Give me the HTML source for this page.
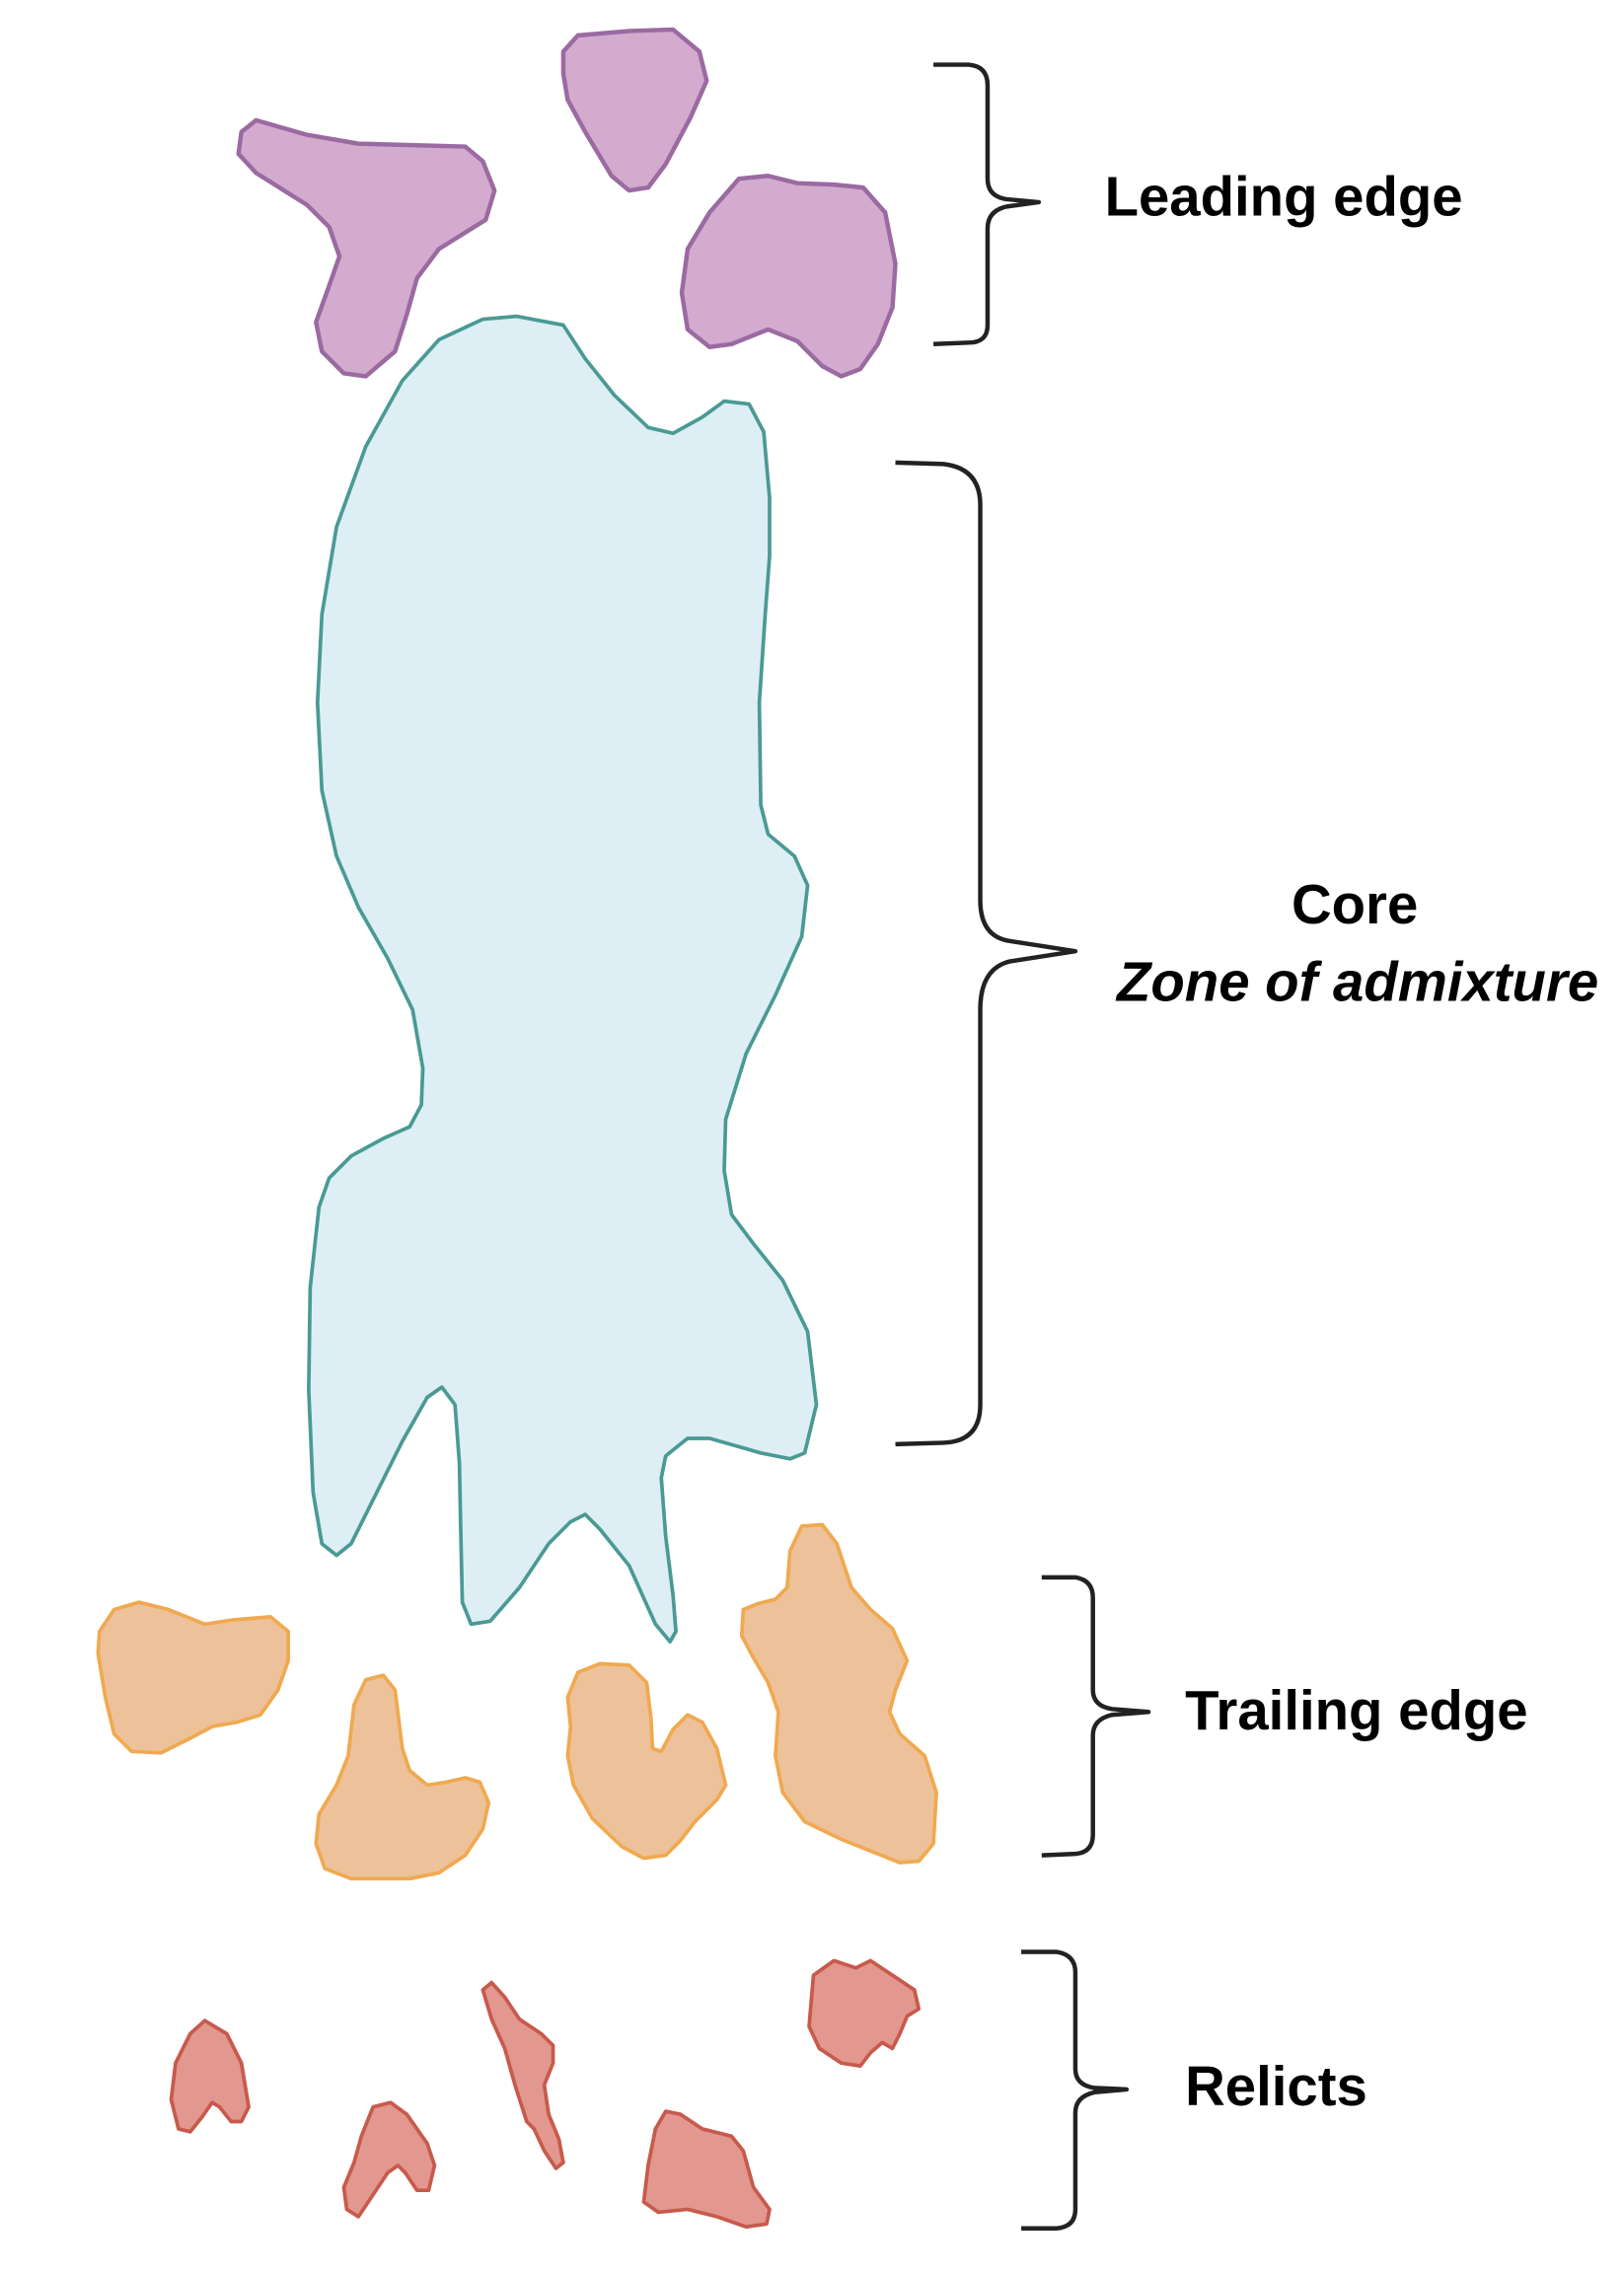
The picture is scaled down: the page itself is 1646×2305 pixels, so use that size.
<!DOCTYPE html>
<html><head><meta charset="utf-8"><style>
html,body{margin:0;padding:0;background:#fff;}
svg{display:block;}
text{font-family:"Liberation Sans",Arial,sans-serif;font-weight:bold;fill:#000;}
</style></head><body>
<svg width="1646" height="2305" viewBox="0 0 1110 1554" xmlns="http://www.w3.org/2000/svg">
<g fill="#d2abcf" stroke="#9b6aa1" stroke-width="3" stroke-linejoin="round">
<polygon points="175,82 210,92 245,98 318,100 330,110 338,130 332,150 300,170 285,190 278,215 270,240 250,257 235,255 220,240 216,220 225,195 232,175 225,155 210,140 175,118 163,105 165,90"/>
<polygon points="385,35 395,24 430,21 460,20 478,35 483,55 472,80 455,112 443,128 430,130 418,120 400,90 388,68 385,50"/>
<polygon points="470,170 485,145 505,122 525,120 545,125 570,126 590,128 605,145 612,180 610,210 600,235 588,252 575,257 562,250 545,233 525,225 500,235 485,237 470,225 466,200"/>
</g>
<polygon fill="#ddeef5" stroke="#4a9a94" stroke-width="2.5" stroke-linejoin="round" points="353,216 385,222 400,245 420,270 443,292 460,296 480,285 495,274 512,276 522,295 526,340 526,380 523,420 519,480 520,550 525,570 543,585 552,605 548,640 530,680 510,720 496,765 495,800 500,830 515,850 535,875 552,910 558,960 550,993 540,997 520,993 485,983 470,983 455,995 452,1010 455,1050 460,1090 462,1115 458,1122 448,1110 430,1070 410,1045 400,1035 390,1040 375,1055 355,1085 335,1108 322,1110 316,1095 315,1050 314,1000 311,960 302,948 292,955 275,985 255,1025 240,1055 230,1063 220,1055 214,1020 211,950 212,880 218,825 225,805 240,790 262,778 280,770 288,755 289,730 282,690 265,655 245,620 230,585 220,540 217,480 220,420 230,360 250,305 275,260 300,232 330,218"/>
<g fill="#edc29a" stroke="#f0a950" stroke-width="2.5" stroke-linejoin="round">
<polygon points="68,1115 78,1100 95,1095 115,1100 140,1110 160,1107 185,1105 197,1115 197,1135 190,1155 178,1172 162,1177 145,1180 130,1188 110,1198 90,1197 78,1185 72,1160 67,1130"/>
<polygon points="242,1165 250,1148 262,1145 270,1155 275,1195 280,1210 292,1220 305,1218 318,1215 328,1218 334,1232 330,1250 318,1268 300,1280 280,1284 240,1284 222,1277 216,1260 218,1240 230,1220 238,1200"/>
<polygon points="388,1160 395,1143 410,1137 430,1138 442,1150 445,1175 446,1195 452,1197 460,1182 470,1172 480,1177 490,1195 496,1220 490,1230 475,1245 465,1258 455,1268 440,1270 425,1262 405,1243 392,1220 388,1200 390,1180"/>
<polygon points="540,1060 548,1043 562,1042 572,1055 582,1085 595,1100 610,1113 620,1135 612,1155 608,1170 615,1185 632,1200 640,1225 638,1260 628,1272 615,1273 600,1267 575,1257 550,1245 535,1225 530,1200 532,1170 525,1150 515,1133 507,1118 508,1100 518,1096 530,1093 538,1085"/>
</g>
<g fill="#e2978f" stroke="#c75a4c" stroke-width="2.5" stroke-linejoin="round">
<polygon points="140,1381 155,1390 165,1410 170,1440 165,1450 158,1450 150,1440 145,1437 138,1447 130,1457 122,1455 117,1435 120,1410 130,1390"/>
<polygon points="255,1440 267,1437 278,1445 292,1465 297,1480 293,1497 285,1497 277,1485 272,1480 265,1485 255,1500 245,1515 237,1510 235,1495 242,1478 247,1460"/>
<polygon points="330,1360 336,1355 345,1365 355,1380 370,1390 378,1398 378,1410 372,1425 375,1445 382,1462 385,1478 380,1482 372,1470 365,1455 360,1450 352,1425 345,1400 336,1380"/>
<polygon points="448,1455 455,1443 465,1445 480,1455 500,1460 508,1470 515,1495 526,1510 524,1520 510,1522 490,1515 470,1510 450,1512 440,1505 443,1480"/>
<polygon points="556,1350 570,1340 585,1345 595,1340 610,1350 625,1360 628,1373 620,1378 615,1390 610,1400 603,1396 595,1403 588,1412 575,1410 560,1400 553,1385"/>
</g>
<g fill="none" stroke="#222" stroke-width="3" stroke-linejoin="round">
<path d="M638,44 L662,44 Q675,45 675,58 L675,122 Q675,134 688,136 L710,138 L688,141 Q675,144 675,156 L675,222 Q675,234 662,234 L638,235"/>
<path d="M612,316 L645,317 Q670,320 670,345 L670,615 Q670,640 690,643 L735,650 L690,657 Q670,662 670,690 L670,960 Q670,985 645,986 L612,987"/>
<path d="M712,1078 L735,1078 Q747,1080 747,1092 L747,1155 Q747,1166 760,1168 L785,1170 L760,1172 Q747,1175 747,1186 L747,1254 Q747,1266 735,1267 L712,1268"/>
<path d="M698,1334 L722,1334 Q735,1336 735,1348 L735,1414 Q735,1425 748,1427 L770,1428 L748,1430 Q735,1433 735,1444 L735,1510 Q735,1522 722,1523 L698,1523"/>
</g>
<text x="755" y="147" font-size="38">Leading edge</text>
<text x="926" y="631" font-size="38" text-anchor="middle">Core</text>
<text x="928" y="684" font-size="38" text-anchor="middle" font-style="italic">Zone of admixture</text>
<text x="810" y="1182" font-size="38">Trailing edge</text>
<text x="810" y="1439" font-size="38">Relicts</text>
</svg>
</body></html>
